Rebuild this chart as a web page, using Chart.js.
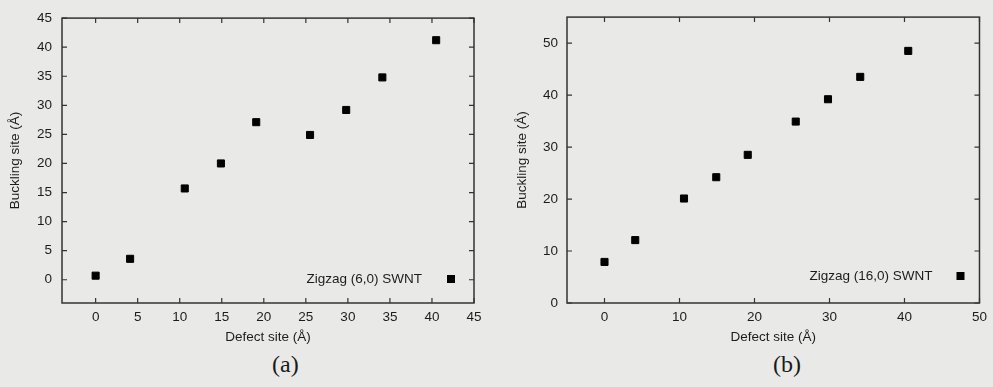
<!DOCTYPE html>
<html>
<head>
<meta charset="utf-8">
<script src="https://cdn.jsdelivr.net/npm/chart.js@4.4.1/dist/chart.umd.min.js"></script>
<style>
  body { margin: 0; background: #e9eae7; width: 993px; height: 387px; overflow: hidden; position: relative; }
  .panel { position: absolute; top: 0; }
  .tag { position: absolute; font-family: "Liberation Serif", serif; font-size: 24px; color: #1a1a1a; }
</style>
</head>
<body>
<div class="panel" style="left:0;width:490px;height:345px"><canvas id="chartA"></canvas></div>
<div class="panel" style="left:490px;width:503px;height:345px"><canvas id="chartB"></canvas></div>
<div class="tag" style="left:272px;top:351px">(a)</div>
<div class="tag" style="left:773px;top:351px">(b)</div>
<script>
// defect site positions, same for both tubes
var defect_site = [0, 4.1, 10.6, 14.9, 19.1, 25.5, 29.8, 34.1, 40.5];
var buckling_6_0 = [0.7, 3.6, 15.7, 20.0, 27.1, 24.9, 29.2, 34.8, 41.2];
var buckling_16_0 = [7.9, 12.1, 20.1, 24.2, 28.5, 34.9, 39.2, 43.5, 48.5];
var label_a = "Zigzag (6,0) SWNT";
var label_b = "Zigzag (16,0) SWNT";

var ink = "#1c1c1c";
var font = { family: "'Liberation Sans', Arial, sans-serif", size: 13.5 };

// frame with inward ticks on all four sides + legend text and marker
const frameTicks = {
  id: "frameTicks",
  afterDraw(chart, args, opts) {
    const ctx = chart.ctx;
    const a = chart.chartArea;
    const xs = chart.scales.x, ys = chart.scales.y;
    ctx.save();
    ctx.strokeStyle = "#333";
    ctx.lineWidth = 1.5;
    ctx.strokeRect(a.left, a.top, a.right - a.left, a.bottom - a.top);
    ctx.lineWidth = 1.2;
    ctx.beginPath();
    xs.ticks.forEach(t => {
      const px = xs.getPixelForValue(t.value);
      ctx.moveTo(px, a.bottom); ctx.lineTo(px, a.bottom - 5);
      ctx.moveTo(px, a.top); ctx.lineTo(px, a.top + 5);
    });
    ys.ticks.forEach(t => {
      const py = ys.getPixelForValue(t.value);
      ctx.moveTo(a.left, py); ctx.lineTo(a.left + 5, py);
      ctx.moveTo(a.right, py); ctx.lineTo(a.right - 5, py);
    });
    ctx.stroke();
    // legend
    const my = a.bottom - opts.dy;
    ctx.fillStyle = ink;
    ctx.font = font.size + "px " + font.family;
    ctx.textAlign = "right";
    ctx.textBaseline = "middle";
    ctx.fillText(opts.text, a.right - opts.textGap, my);
    ctx.fillStyle = "#000";
    ctx.fillRect(a.right - opts.markGap - 4, my - 4, 8, 8);
    ctx.restore();
  }
};

function make_chart(id, yData, xr, yr, yAxisW, yTitlePad, legend) {
  return new Chart(document.getElementById(id), {
    type: "scatter",
    data: {
      datasets: [{
        data: defect_site.map((x, i) => ({ x: x, y: yData[i] })),
        pointStyle: "rect",
        pointRadius: 5,
        borderWidth: 1,
        backgroundColor: "#000",
        borderColor: "#000"
      }]
    },
    options: {
      responsive: true,
      maintainAspectRatio: false,
      animation: false,
      layout: { padding: { top: 13, right: legend.padRight, left: 0, bottom: 0 } },
      plugins: { legend: { display: false }, tooltip: { enabled: false }, frameTicks: legend },
      scales: {
        x: {
          type: "linear", min: xr[0], max: xr[1],
          grid: { display: false, drawTicks: false },
          border: { display: false },
          ticks: { stepSize: xr[2], includeBounds: false, color: ink, font: font, padding: 6, maxRotation: 0 },
          title: { display: true, text: "Defect site (Å)", color: ink, font: font, padding: 0 },
          afterFit(s) { s.height = 42; }
        },
        y: {
          type: "linear", min: yr[0], max: yr[1],
          grid: { display: false, drawTicks: false },
          border: { display: false },
          ticks: { stepSize: yr[2], includeBounds: false, color: ink, font: font, padding: legend.tickPad },
          title: { display: true, text: "Buckling site (Å)", color: ink, font: font, padding: { top: yTitlePad, bottom: 0 } },
          afterFit(s) { s.width = yAxisW; }
        }
      }
    },
    plugins: [frameTicks]
  });
}

make_chart("chartA", buckling_6_0, [-4, 45, 5], [-4, 45, 5], 62, 7,
  { text: label_a, textGap: 52, markGap: 23, dy: 24, padRight: 16, tickPad: 10 });
make_chart("chartB", buckling_16_0, [-5, 50, 10], [0, 55, 10], 77, 24,
  { text: label_b, textGap: 47, markGap: 19, dy: 27, padRight: 11, tickPad: 9 });
</script>
</body>
</html>
